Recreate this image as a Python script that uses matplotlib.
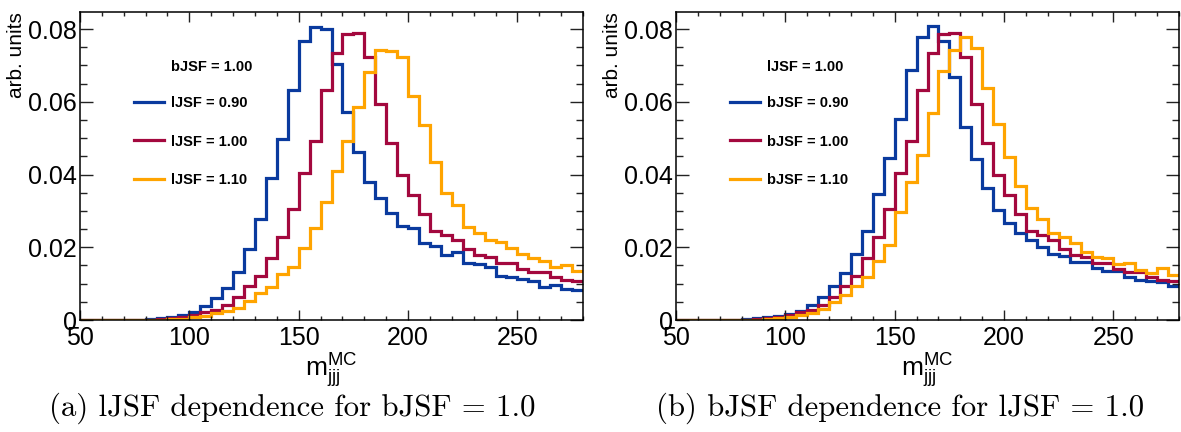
import numpy as np
import matplotlib
matplotlib.use("Agg")
import matplotlib.pyplot as plt
from matplotlib.ticker import MultipleLocator, FuncFormatter

# Binning of the m_jjj histograms (5 GeV bins from 50 to 280)
BIN_EDGES = np.arange(50, 285, 5)

# Left panel: lJSF variations at bJSF = 1.00
ljsf_090 = [0, 0, 0.00002, 0.00003, 0.00005, 0.0001, 0.0002, 0.0005, 0.0009, 0.0014,
            0.0023, 0.0038, 0.006, 0.0088, 0.0132, 0.0195, 0.0278, 0.0391, 0.0497, 0.0633,
            0.0767, 0.0807, 0.0799, 0.0703, 0.0571, 0.0463, 0.0379, 0.0335, 0.0293, 0.0259,
            0.0252, 0.0211, 0.0204, 0.0179, 0.0188, 0.0158, 0.0153, 0.0147, 0.0122, 0.0117,
            0.0112, 0.0107, 0.0092, 0.0096, 0.0084, 0.0083]
nominal = [0, 0, 0.00001, 0.00002, 0.00003, 0.00005, 0.0001, 0.0002, 0.0005, 0.0009,
           0.0015, 0.0022, 0.0028, 0.0042, 0.0064, 0.0093, 0.0122, 0.017, 0.0227, 0.0305,
           0.0404, 0.0493, 0.0632, 0.0735, 0.0787, 0.0788, 0.0722, 0.0593, 0.0486, 0.0399,
           0.0344, 0.0291, 0.0245, 0.0234, 0.022, 0.0194, 0.0179, 0.0172, 0.0156, 0.0156,
           0.0139, 0.0133, 0.0133, 0.0119, 0.011, 0.0107]
ljsf_110 = [0, 0, 0, 0.00001, 0.00002, 0.00003, 0.00005, 0.0001, 0.0002, 0.0004,
            0.0008, 0.0012, 0.0018, 0.0025, 0.0034, 0.0051, 0.0073, 0.0092, 0.0127, 0.0147,
            0.0197, 0.0252, 0.0325, 0.0411, 0.0493, 0.0585, 0.0683, 0.0743, 0.074, 0.0722,
            0.0616, 0.0536, 0.0435, 0.0348, 0.0316, 0.0257, 0.0238, 0.022, 0.0215, 0.0197,
            0.0182, 0.017, 0.0163, 0.0147, 0.015, 0.0136]

# Right panel: bJSF variations at lJSF = 1.00
bjsf_090 = [0, 0, 0.00001, 0.00002, 0.00004, 0.0001, 0.0002, 0.0005, 0.0008, 0.0012,
            0.0016, 0.0024, 0.0041, 0.0064, 0.0094, 0.013, 0.0182, 0.0246, 0.0347, 0.0446,
            0.0553, 0.0688, 0.0777, 0.0808, 0.0768, 0.0669, 0.0532, 0.0442, 0.0362, 0.0303,
            0.0266, 0.0238, 0.022, 0.0202, 0.0182, 0.0176, 0.0159, 0.0159, 0.0142, 0.0136,
            0.0136, 0.0117, 0.011, 0.0107, 0.0104, 0.0094]
bjsf_110 = [0, 0, 0, 0.00001, 0.00002, 0.00004, 0.00006, 0.0001, 0.0002, 0.0005,
            0.0009, 0.0013, 0.002, 0.003, 0.005, 0.0069, 0.0093, 0.0117, 0.0162, 0.0206,
            0.0298, 0.0379, 0.0454, 0.057, 0.0685, 0.0743, 0.0779, 0.0749, 0.0639, 0.0539,
            0.0449, 0.0369, 0.0307, 0.0277, 0.024, 0.0229, 0.0211, 0.0188, 0.0172, 0.017,
            0.0154, 0.0158, 0.0138, 0.013, 0.0142, 0.0124]

COLORS = ["#0a3a9e", "#a3083e", "#ffa400"]

PANELS = [
    {
        "series": [ljsf_090, nominal, ljsf_110],
        "labels": ["lJSF = 0.90", "lJSF = 1.00", "lJSF = 1.10"],
        "header": "bJSF = 1.00",
        "caption": "(a) lJSF dependence for bJSF = 1.0",
    },
    {
        "series": [bjsf_090, nominal, bjsf_110],
        "labels": ["bJSF = 0.90", "bJSF = 1.00", "bJSF = 1.10"],
        "header": "lJSF = 1.00",
        "caption": "(b) bJSF dependence for lJSF = 1.0",
    },
]

SANS = "Liberation Sans"
plt.rcParams["font.family"] = [SANS, "DejaVu Sans"]
plt.rcParams["mathtext.fontset"] = "custom"
plt.rcParams["mathtext.rm"] = SANS
plt.rcParams["mathtext.it"] = SANS


def y_fmt(v, _pos):
    '''ROOT style tick labels: plain 0, two decimals otherwise.'''
    if abs(v) < 1e-9:
        return "0"
    return f"{v:.2f}"


def draw_panel(ax, panel):
    for values, color, label in zip(panel["series"], COLORS, panel["labels"]):
        ax.stairs(values, BIN_EDGES, color=color, lw=2.3, baseline=None, label=label)

    ax.set_xlim(50, 280)
    ax.set_ylim(0, 0.0847)

    # ticks inside, on all four sides
    ax.xaxis.set_major_locator(MultipleLocator(50))
    ax.xaxis.set_minor_locator(MultipleLocator(10))
    ax.yaxis.set_major_locator(MultipleLocator(0.02))
    ax.yaxis.set_minor_locator(MultipleLocator(0.005))
    ax.yaxis.set_major_formatter(FuncFormatter(y_fmt))
    ax.tick_params(which="both", direction="in", top=True, right=True,
                   labelsize=18, width=1.0, color="#222222")
    ax.tick_params(axis="x", which="major", length=7.5, pad=4)
    ax.tick_params(axis="x", which="minor", length=3.2)
    ax.tick_params(axis="y", which="major", length=9.5, pad=2)
    ax.tick_params(axis="y", which="minor", length=4.8)
    for sp in ax.spines.values():
        sp.set_linewidth(1.1)

    ax.set_xlabel(r"$\mathrm{m}_{\mathrm{jjj}}^{\mathrm{MC}}$", fontsize=19, labelpad=1)
    ax.set_ylabel("arb. units", fontsize=15, loc="top")
    ax.yaxis.set_label_coords(-0.108, 1.0)

    # legend block: header text plus the three entries
    ax.text(0.181, 0.821, panel["header"], transform=ax.transAxes,
            fontsize=10.5, fontweight="bold", va="center", ha="left")
    ax.legend(loc="upper left", bbox_to_anchor=(0.107, 0.727), frameon=False,
              borderpad=0, borderaxespad=0, handlelength=2.05, handletextpad=0.5,
              labelspacing=1.68, prop={"size": 10.5, "weight": "bold"})


def main():
    fig = plt.figure(figsize=(11.81, 4.32), dpi=100)
    boxes = [(80, 503, 292), (676, 503, 900)]
    for (x0, w, xc), panel in zip(boxes, PANELS):
        ax = fig.add_axes([x0 / 1181, 112 / 432, w / 1181, 308 / 432])
        draw_panel(ax, panel)
        fig.text(xc / 1181, 24 / 432, panel["caption"],
                 family="cmr10", fontsize=22.2, ha="center", va="center")

    fig.savefig("out.png", dpi=100)


if __name__ == "__main__":
    main()
